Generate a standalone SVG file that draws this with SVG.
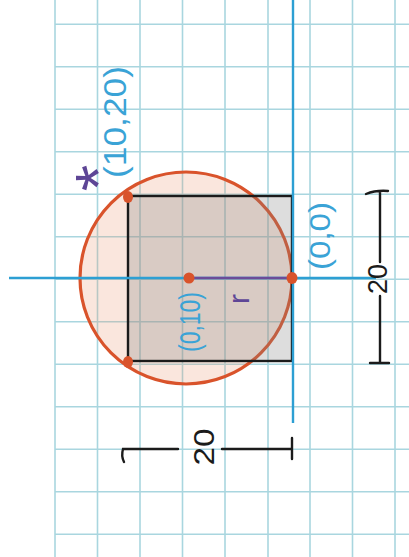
<svg xmlns="http://www.w3.org/2000/svg" width="409" height="557" viewBox="0 0 409 557">
<style>
.grid line{stroke:#a9d6df;stroke-width:1.6}
.axis{stroke:#2d9fd3;stroke-width:2.4;fill:none}
.ink{stroke:#1b1b1b;stroke-width:2.4;fill:none;stroke-linecap:round}
.dot{fill:#d9532b}
.lbl{font-family:"Liberation Sans",Arial,sans-serif;fill:#3aa3d6;text-anchor:middle}
.blk{font-family:"Liberation Sans",Arial,sans-serif;fill:#1b1b1b;text-anchor:middle}
.pur{font-family:"Liberation Sans",Arial,sans-serif;fill:#5e4696;text-anchor:middle}
</style>
<rect width="409" height="557" fill="#ffffff"/>
<g id="grid" class="grid">
<line x1="55" y1="0" x2="55" y2="557"/>
<line x1="97.5" y1="0" x2="97.5" y2="557"/>
<line x1="140" y1="0" x2="140" y2="557"/>
<line x1="182.5" y1="0" x2="182.5" y2="557"/>
<line x1="225" y1="0" x2="225" y2="557"/>
<line x1="268" y1="0" x2="268" y2="557"/>
<line x1="310" y1="0" x2="310" y2="557"/>
<line x1="352.5" y1="0" x2="352.5" y2="557"/>
<line x1="395" y1="0" x2="395" y2="557"/>
<line x1="55" y1="24.3" x2="409" y2="24.3"/>
<line x1="55" y1="66.8" x2="409" y2="66.8"/>
<line x1="55" y1="109.3" x2="409" y2="109.3"/>
<line x1="55" y1="151.8" x2="409" y2="151.8"/>
<line x1="55" y1="194.3" x2="409" y2="194.3"/>
<line x1="55" y1="236.8" x2="409" y2="236.8"/>
<line x1="55" y1="279.3" x2="409" y2="279.3"/>
<line x1="55" y1="321.8" x2="409" y2="321.8"/>
<line x1="55" y1="364.3" x2="409" y2="364.3"/>
<line x1="55" y1="406.8" x2="409" y2="406.8"/>
<line x1="55" y1="449.3" x2="409" y2="449.3"/>
<line x1="55" y1="491.8" x2="409" y2="491.8"/>
<line x1="55" y1="534.3" x2="409" y2="534.3"/>
</g>
<g id="circle">
<circle cx="186" cy="278" r="106" fill="#eb9670" fill-opacity="0.24" stroke="#d9532b" stroke-width="3.2"/>
</g>
<g id="square">
<rect x="128" y="196" width="164" height="165" fill="#808080" fill-opacity="0.27" stroke="#1b1b1b" stroke-width="2.4"/>
</g>
<g id="connectors">
<line class="axis" x1="9" y1="278" x2="376" y2="278"/>
<line class="axis" x1="293" y1="0" x2="293" y2="423"/>
<line x1="189" y1="278" x2="292" y2="278" stroke="#6b4c9a" stroke-width="2.4"/>
<path class="ink" d="M124 462 Q121 456 123 449 L178 449"/>
<path class="ink" d="M222 449 L292 449 M292 438 L292 459"/>
<path class="ink" d="M366 194 Q376 190 388 191 M380 192 L380 262 M380 296 L380 363 M370 363 L389 363"/>
</g>
<g id="points">
<ellipse class="dot" cx="128" cy="197" rx="5" ry="6"/>
<ellipse class="dot" cx="128" cy="362" rx="5" ry="6"/>
<ellipse class="dot" cx="189" cy="278" rx="5.5" ry="5.5"/>
<ellipse class="dot" cx="292" cy="278" rx="5.5" ry="6"/>
</g>
<g id="labels">
<text class="lbl" font-size="32" transform="translate(126,122) rotate(-90)" textLength="112" lengthAdjust="spacingAndGlyphs">(10,20)</text>
<text class="lbl" font-size="30" transform="translate(330,236) rotate(-90)" textLength="68" lengthAdjust="spacingAndGlyphs">(0,0)</text>
<text class="lbl" font-size="30" transform="translate(200,322) rotate(-90)" textLength="60" lengthAdjust="spacingAndGlyphs">(0,10)</text>
<text class="pur" font-size="30" transform="translate(249,299) rotate(-90)">r</text>
<text class="pur" font-size="40" transform="translate(121,178) rotate(-90) scale(1.7,1.6)">*</text>
<text class="blk" font-size="30" transform="translate(214,447) rotate(-90)" textLength="37" lengthAdjust="spacingAndGlyphs">20</text>
<text class="blk" font-size="28" transform="translate(387,279) rotate(-90)" textLength="30" lengthAdjust="spacingAndGlyphs">20</text>
</g>
</svg>
